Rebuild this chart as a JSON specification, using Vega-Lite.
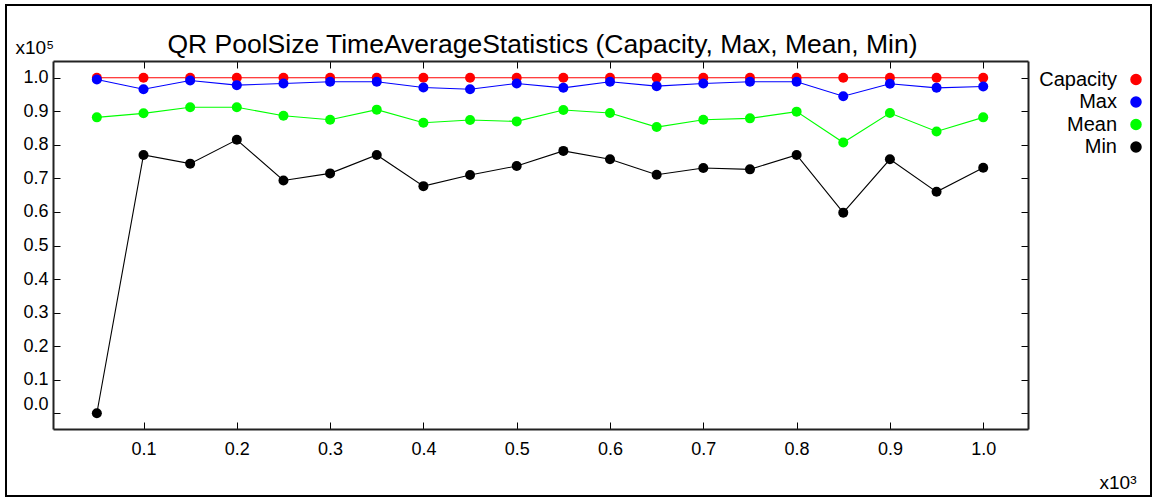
{
  "$schema": "https://vega.github.io/schema/vega-lite/v6.json",
  "width": 1145,
  "height": 491,
  "autosize": {"type": "none"},
  "padding": {"left": 6, "top": 5, "right": 3, "bottom": 1},
  "background": "white",
  "config": {
    "font": "Liberation Sans",
    "view": {"stroke": "black", "strokeWidth": 2, "fill": "white"}
  },
  "title": {
    "text": "QR PoolSize TimeAverageStatistics (Capacity, Max, Mean, Min)",
    "anchor": "middle",
    "frame": "group",
    "orient": "top",
    "offset": -74,
    "dx": -36,
    "baseline": "alphabetic",
    "fontSize": 26.5,
    "fontWeight": "normal",
    "color": "black",
    "font": "Liberation Sans"
  },
  "data": {
    "values": [
      {"t": 50, "Capacity": 100000, "Max": 99500, "Mean": 88200, "Min": 0},
      {"t": 100, "Capacity": 100000, "Max": 96600, "Mean": 89400, "Min": 77000},
      {"t": 150, "Capacity": 100000, "Max": 99200, "Mean": 91200, "Min": 74400},
      {"t": 200, "Capacity": 100000, "Max": 97800, "Mean": 91200, "Min": 81500},
      {"t": 250, "Capacity": 100000, "Max": 98300, "Mean": 88700, "Min": 69400},
      {"t": 300, "Capacity": 100000, "Max": 98800, "Mean": 87500, "Min": 71500},
      {"t": 350, "Capacity": 100000, "Max": 98800, "Mean": 90500, "Min": 77000},
      {"t": 400, "Capacity": 100000, "Max": 97100, "Mean": 86600, "Min": 67700},
      {"t": 450, "Capacity": 100000, "Max": 96600, "Mean": 87400, "Min": 71000},
      {"t": 500, "Capacity": 100000, "Max": 98300, "Mean": 87000, "Min": 73700},
      {"t": 550, "Capacity": 100000, "Max": 97000, "Mean": 90400, "Min": 78200},
      {"t": 600, "Capacity": 100000, "Max": 98800, "Mean": 89500, "Min": 75700},
      {"t": 650, "Capacity": 100000, "Max": 97500, "Mean": 85300, "Min": 71100},
      {"t": 700, "Capacity": 100000, "Max": 98300, "Mean": 87500, "Min": 73100},
      {"t": 750, "Capacity": 100000, "Max": 98800, "Mean": 87900, "Min": 72700},
      {"t": 800, "Capacity": 100000, "Max": 98800, "Mean": 89900, "Min": 77000},
      {"t": 850, "Capacity": 100000, "Max": 94500, "Mean": 80700, "Min": 59800},
      {"t": 900, "Capacity": 100000, "Max": 98200, "Mean": 89500, "Min": 75700},
      {"t": 950, "Capacity": 100000, "Max": 97000, "Mean": 84000, "Min": 66000},
      {"t": 1000, "Capacity": 100000, "Max": 97400, "Mean": 88200, "Min": 73200}
    ]
  },
  "transform": [
    {"fold": ["Capacity", "Max", "Mean", "Min"], "as": ["series", "value"]}
  ],
  "encoding": {
    "color": {
      "field": "series",
      "type": "nominal",
      "scale": {
        "domain": ["Capacity", "Max", "Mean", "Min"],
        "range": ["#ff0000", "#0000ff", "#00ff00", "#000000"]
      },
      "legend": {
        "title": null,
        "orient": "none",
        "legendX": 1030,
        "legendY": 64.5,
        "padding": 0,
        "rowPadding": 2.5,
        "labelFontSize": 20,
        "labelFont": "Liberation Sans",
        "labelColor": "black",
        "labelLimit": 0,
        "symbolType": "circle",
        "symbolSize": 100,
        "encode": {
          "labels": {"update": {"x": {"value": 81}, "align": {"value": "right"}}},
          "symbols": {"update": {"x": {"value": 100}, "fill": {"scale": "color", "field": "value"}, "stroke": {"value": "transparent"}, "opacity": {"value": 1}}}
        }
      }
    }
  },
  "layer": [
    {
      "mark": {"type": "line", "strokeWidth": 1.1},
      "encoding": {
        "x": {
          "field": "t", "type": "quantitative",
          "scale": {"domain": [3, 1048], "range": [47, 1022], "nice": false, "zero": false},
          "axis": {
            "orient": "bottom",
            "offset": -67,
            "values": [100, 200, 300, 400, 500, 600, 700, 800, 900, 1000],
            "labelExpr": "format(datum.value/1000, '.1f')",
            "grid": false,
            "tickSize": -7,
            "tickColor": "black",
            "domainColor": "#222222",
            "domainWidth": 2,
            "labelPadding": 18,
            "labelFontSize": 18,
            "labelColor": "black",
            "labelFont": "Liberation Sans",
            "title": "x10³",
            "titleFont": "Liberation Sans",
            "titleFontSize": 19,
            "titleFontWeight": "normal",
            "titleColor": "black",
            "titleAlign": "left",
            "titleBaseline": "alphabetic",
            "titleAnchor": "start",
            "titleX": 1093,
            "titleY": 59
          }
        },
        "y": {
          "field": "value", "type": "quantitative",
          "scale": {"domain": [-4700, 105000], "range": [424, 56], "nice": false, "zero": false},
          "axis": {
            "orient": "left",
            "offset": -47,
            "values": [0, 10000, 20000, 30000, 40000, 50000, 60000, 70000, 80000, 90000, 100000],
            "labelExpr": "format(datum.value/100000, '.1f')",
            "labelBaseline": {"condition": {"test": "datum.value <= 0", "value": "bottom"}, "value": "middle"},
            "grid": false,
            "tickSize": -7,
            "tickColor": "black",
            "domainColor": "#222222",
            "domainWidth": 2,
            "labelPadding": 12,
            "labelFontSize": 18,
            "labelColor": "black",
            "labelFont": "Liberation Sans",
            "title": "x10⁵",
            "titleFont": "Liberation Sans",
            "titleFontSize": 19,
            "titleFontWeight": "normal",
            "titleColor": "black",
            "titleAngle": 0,
            "titleAlign": "left",
            "titleBaseline": "alphabetic",
            "titleX": -38,
            "titleY": 48
          }
        }
      }
    },
    {
      "mark": {"type": "point", "filled": true, "size": 100, "opacity": 1, "strokeWidth": 0},
      "encoding": {
        "x": {
          "field": "t", "type": "quantitative",
          "scale": {"domain": [3, 1048], "range": [47, 1022], "nice": false, "zero": false},
          "axis": {
            "orient": "top",
            "offset": -56,
            "values": [100, 200, 300, 400, 500, 600, 700, 800, 900, 1000],
            "labels": false,
            "grid": false,
            "tickSize": -7,
            "tickColor": "black",
            "domainColor": "#222222",
            "domainWidth": 2,
            "title": null
          }
        },
        "y": {
          "field": "value", "type": "quantitative",
          "scale": {"domain": [-4700, 105000], "range": [424, 56], "nice": false, "zero": false},
          "axis": {
            "orient": "right",
            "offset": -123,
            "values": [0, 10000, 20000, 30000, 40000, 50000, 60000, 70000, 80000, 90000, 100000],
            "labels": false,
            "grid": false,
            "tickSize": -7,
            "tickColor": "black",
            "domainColor": "#222222",
            "domainWidth": 2,
            "title": null
          }
        }
      }
    }
  ],
  "resolve": {"axis": {"x": "independent", "y": "independent"}}
}
